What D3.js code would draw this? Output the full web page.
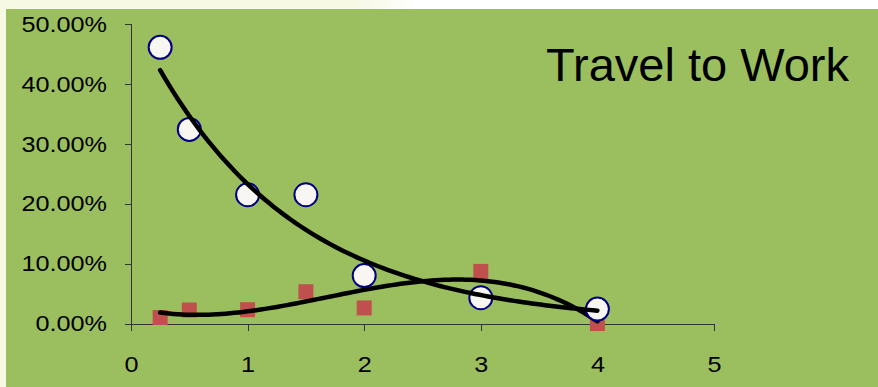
<!DOCTYPE html>
<meta charset="utf-8">
<title>Travel to Work</title>
<style>
  body { margin: 0; background: #fff; }
  svg { display: block; font-family: Arial, "Liberation Sans", sans-serif; }
  .axis path, .axis line { stroke: #333; shape-rendering: crispEdges; }
  .axis text { fill: #000; font-size: 22.5px; }
  .trend { fill: none; stroke: #000; stroke-width: 4.5px; stroke-linecap: round; }
</style>
<svg width="878" height="387"></svg>
<script src="https://d3js.org/d3.v7.min.js"></script>
<script>
  // distance (x) vs share of trips, two series
  var distances = [0.25, 0.5, 1, 1.5, 2, 3, 4];
  var circleShare = [46.1, 32.4, 21.5, 21.5, 8.0, 4.3, 2.4];
  var squareShare = [1.0, 2.25, 2.3, 5.3, 2.6, 8.7, 0];
  var xTicks = [0, 1, 2, 3, 4, 5];
  var yTicks = [0, 0.1, 0.2, 0.3, 0.4, 0.5];
  var title = "Travel to Work";

  var svg = d3.select("svg");

  // page backdrop: pale strip on top/left, green plot area
  var grad = svg.append("defs").append("linearGradient").attr("id", "fade");
  grad.append("stop").attr("offset", "0%").attr("stop-color", "#f6f9e4");
  grad.append("stop").attr("offset", "85%").attr("stop-color", "#f6f9e4");
  grad.append("stop").attr("offset", "100%").attr("stop-color", "#fff");
  svg.append("rect").attr("x", 0).attr("y", 0).attr("width", 420).attr("height", 9).attr("fill", "url(#fade)");
  svg.append("rect").attr("x", 0).attr("y", 0).attr("width", 6).attr("height", 387).attr("fill", "#f6f9e4");
  svg.append("rect").attr("x", 6).attr("y", 9).attr("width", 872).attr("height", 378).attr("fill", "#9bbf5e");

  var x = d3.scaleLinear().domain([0, 5]).range([131, 714]);
  var y = d3.scaleLinear().domain([0, 0.5]).range([323.5, 24]);

  svg.append("g")
    .attr("class", "axis")
    .attr("transform", "translate(0,323.5)")
    .call(d3.axisBottom(x).tickValues(xTicks).tickFormat(d3.format("d"))
      .tickSize(7).tickPadding(26));

  svg.append("g")
    .attr("class", "axis")
    .attr("transform", "translate(131,0)")
    .call(d3.axisLeft(y).tickValues(yTicks).tickFormat(d3.format(".2%"))
      .tickSize(6).tickPadding(18));

  // labels in the original are a bit wider than plain Arial
  svg.selectAll(".axis text").each(function () {
    var w = this.getComputedTextLength();
    d3.select(this).attr("textLength", w * 1.12).attr("lengthAdjust", "spacingAndGlyphs");
  });
  svg.selectAll(".axis .domain").attr("stroke", "#222");

  // exponential trend for circles (least squares on ln y)
  function expFit(xs, ys) {
    var ly = ys.map(Math.log), mx = d3.mean(xs), my = d3.mean(ly);
    var sxy = d3.sum(xs, (v, i) => (v - mx) * (ly[i] - my));
    var sxx = d3.sum(xs, v => (v - mx) * (v - mx));
    var b = sxy / sxx, a = my - b * mx;
    return v => Math.exp(a + b * v);
  }

  // cubic polynomial trend for squares
  function polyFit(xs, ys, order) {
    var n = order + 1, A = [], B = [];
    for (var r = 0; r < n; r++) {
      A.push([]);
      for (var c = 0; c < n; c++) A[r].push(d3.sum(xs, v => Math.pow(v, r + c)));
      B.push(d3.sum(xs, (v, i) => Math.pow(v, r) * ys[i]));
    }
    for (var i = 0; i < n; i++) {
      var p = i;
      for (var k = i + 1; k < n; k++) if (Math.abs(A[k][i]) > Math.abs(A[p][i])) p = k;
      [A[i], A[p]] = [A[p], A[i]]; [B[i], B[p]] = [B[p], B[i]];
      for (var k = i + 1; k < n; k++) {
        var f = A[k][i] / A[i][i];
        for (var j = i; j < n; j++) A[k][j] -= f * A[i][j];
        B[k] -= f * B[i];
      }
    }
    var coef = new Array(n).fill(0);
    for (var i = n - 1; i >= 0; i--) {
      var s = B[i];
      for (var j = i + 1; j < n; j++) s -= A[i][j] * coef[j];
      coef[i] = s / A[i][i];
    }
    return v => d3.sum(coef, (c, i) => c * Math.pow(v, i));
  }

  var circleTrend = expFit(distances, circleShare);
  var squareTrend = polyFit(distances, squareShare, 3);
  var samples = d3.range(0, 101).map(i => 0.25 + (4 - 0.25) * i / 100);
  var line = d3.line().x(d => x(d[0])).y(d => y(d[1] / 100));

  svg.append("g").selectAll("rect")
    .data(distances)
    .join("rect")
    .attr("x", (d, i) => x(d) - 7.5)
    .attr("y", (d, i) => y(squareShare[i] / 100) - 7.5)
    .attr("width", 15)
    .attr("height", 15)
    .attr("fill", "#c0504d");

  svg.append("path")
    .attr("class", "trend")
    .attr("d", line(samples.map(v => [v, squareTrend(v)])));

  svg.append("g").selectAll("circle")
    .data(distances)
    .join("circle")
    .attr("cx", d => x(d))
    .attr("cy", (d, i) => y(circleShare[i] / 100))
    .attr("r", 11.5)
    .attr("fill", "#f8f6f2")
    .attr("stroke", "#000080")
    .attr("stroke-width", 2);

  svg.append("path")
    .attr("class", "trend")
    .attr("d", line(samples.map(v => [v, circleTrend(v)])));

  svg.append("text")
    .attr("x", 849)
    .attr("y", 81)
    .attr("text-anchor", "end")
    .attr("font-size", 47)
    .text(title);
</script>
